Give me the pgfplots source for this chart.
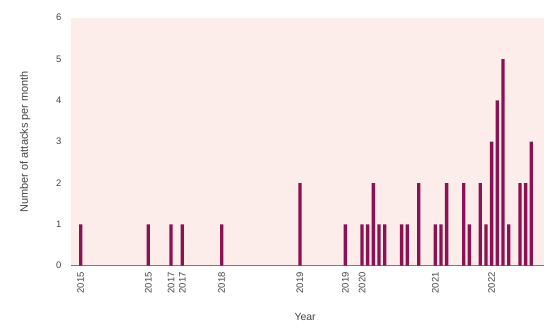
\documentclass[border=0pt]{standalone}
\usepackage{pgfplots}
\pgfplotsset{compat=1.18}
\usepackage{fontspec}
\setmainfont{Liberation Sans}
\definecolor{barc}{HTML}{8A1253}
\definecolor{bgc}{HTML}{FDEDEA}
\definecolor{txt}{HTML}{444444}
\definecolor{axc}{HTML}{7A7A7A}
\begin{document}
\begin{tikzpicture}
\path[use as bounding box] (-71bp,-63.3bp) rectangle (485bp,265.7bp);
\begin{axis}[
  at={(0,0)}, anchor=south west,
  scale only axis, width=473bp, height=248bp,
  xmin=-1.71, xmax=81.64, ymin=0, ymax=6,
  ytick={0,1,2,3,4,5,6},
  /pgf/number format/assume math mode=true,
  xtick={0,11.91,15.91,17.90,24.85,38.64,46.63,49.57,62.48,72.42},
  xticklabels={2015,2015,2017,2017,2018,2019,2019,2020,2021,2022},
  x tick label style={rotate=90, anchor=east, font=\fontsize{9.5}{10}\selectfont, text=txt, xshift=-3bp},
  y tick label style={font=\fontsize{9.5}{10}\selectfont, text=txt, xshift=-6bp},
  major tick length=0pt,
  axis x line*=bottom, axis y line*=left,
  x axis line style={draw=axc, line width=1.1pt},
  y axis line style={draw=none},
  axis background/.style={fill=bgc},
  ylabel={Number of attacks per month},
  xlabel={Year},
  ylabel style={at={(axis description cs:-0.097,0.5)}, anchor=center, rotate=0, font=\fontsize{11}{12}\selectfont, text=txt},
  xlabel style={at={(axis description cs:0.495,-0.205)}, anchor=center, font=\fontsize{10.5}{12}\selectfont, text=txt},
  ybar, bar width=3.4bp,
]
\addplot[fill=barc, draw=none] coordinates {
(0,1) (11.91,1) (15.91,1) (17.90,1) (24.85,1) (38.64,2)
(46.63,1) (49.57,1) (50.57,1) (51.56,2) (52.56,1) (53.57,1)
(56.56,1) (57.55,1) (59.56,2)
(62.48,1) (63.49,1) (64.49,2) (67.49,2) (68.48,1)
(70.41,2) (71.42,1) (72.42,3) (73.41,4) (74.41,5) (75.42,1)
(77.41,2) (78.41,2) (79.40,3)
};
\end{axis}
\end{tikzpicture}
\end{document}
